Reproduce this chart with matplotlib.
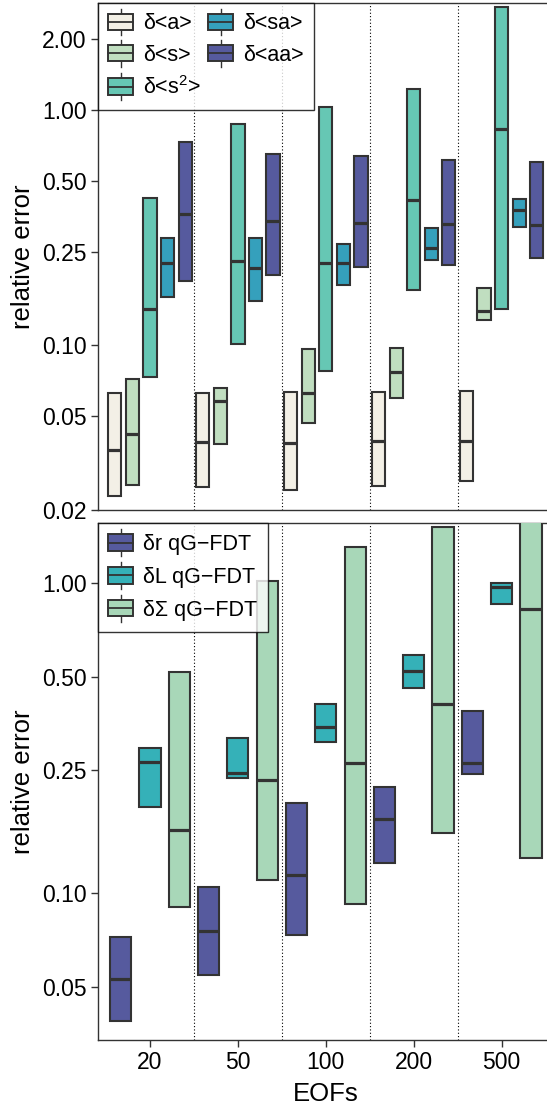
"""
relative error of the response estimates vs number of EOFs
top    - moment errors (five boxes per EOF count)
bottom - qG-FDT errors (three boxes per EOF count)
"""

import matplotlib
matplotlib.use("Agg")
import matplotlib.pyplot as plt
import numpy as np
from matplotlib.legend_handler import HandlerBase
from matplotlib.patches import Patch, Rectangle
from matplotlib.lines import Line2D

plt.rcParams["font.family"] = ["Liberation Sans", "DejaVu Sans"]
plt.rcParams["mathtext.fontset"] = "custom"
plt.rcParams["mathtext.rm"] = "Liberation Sans"
plt.rcParams["mathtext.it"] = "Liberation Sans:italic"

EOFS = ["20", "50", "100", "200", "500"]

# ---- top panel: (low, median, high) per EOF count -------------------------
TOP_NAMES = ["δ<a>", "δ<s>", "δ<s$^{2}$>", "δ<sa>", "δ<aa>"]
TOP_COLORS = ["#F3F0E6", "#C0DEC0", "#66C7B4", "#35A0BC", "#565A9E"]
a_lo  = [0.0229, 0.0250, 0.0244, 0.0252, 0.0265]
a_med = [0.0358, 0.0388, 0.0384, 0.0391, 0.0391]
a_hi  = [0.0625, 0.0625, 0.0636, 0.0636, 0.0640]
s_lo  = [0.0256, 0.0382, 0.0467, 0.0596, 0.128]
s_med = [0.0420, 0.0582, 0.0625, 0.0772, 0.140]
s_hi  = [0.0718, 0.0660, 0.0969, 0.0978, 0.175]
s2_lo  = [0.0735, 0.101, 0.078, 0.172, 0.143]
s2_med = [0.143, 0.229, 0.225, 0.413, 0.829]
s2_hi  = [0.424, 0.870, 1.03, 1.235, 2.73]
sa_lo  = [0.160, 0.155, 0.181, 0.231, 0.318]
sa_med = [0.224, 0.213, 0.223, 0.260, 0.375]
sa_hi  = [0.285, 0.285, 0.271, 0.315, 0.421]
aa_lo  = [0.188, 0.200, 0.216, 0.220, 0.235]
aa_med = [0.362, 0.338, 0.332, 0.327, 0.325]
aa_hi  = [0.730, 0.652, 0.641, 0.613, 0.603]

# ---- bottom panel ---------------------------------------------------------
BOT_NAMES = ["δr qG−FDT", "δL qG−FDT", "δΣ qG−FDT"]
BOT_COLORS = ["#565A9E", "#35B1B8", "#A8D7B8"]
r_lo  = [0.0388, 0.0545, 0.0734, 0.125, 0.2425]
r_med = [0.0528, 0.0757, 0.1146, 0.1732, 0.2627]
r_hi  = [0.0723, 0.1045, 0.196, 0.220, 0.388]
L_lo  = [0.190, 0.236, 0.308, 0.4605, 0.856]
L_med = [0.265, 0.244, 0.344, 0.521, 0.975]
L_hi  = [0.295, 0.316, 0.408, 0.586, 1.005]
S_lo  = [0.0905, 0.110, 0.0921, 0.157, 0.1297]
S_med = [0.160, 0.232, 0.264, 0.407, 0.824]
S_hi  = [0.516, 1.016, 1.312, 1.516, 2.00]

EDGE = "#333333"


class BoxKey(HandlerBase):
    """legend key that looks like a small boxplot with whiskers"""
    def create_artists(self, legend, orig, xd, yd, w, h, fontsize, trans):
        y0 = -yd
        cx = -xd + w / 2
        wl = Line2D([cx, cx], [y0 - 0.32 * h, y0 + h + 0.32 * h],
                    color=EDGE, lw=1.0, transform=trans)
        r = Rectangle((-xd, y0), w, h, facecolor=orig.get_facecolor(),
                      edgecolor=EDGE, lw=1.4, transform=trans)
        m = Line2D([-xd, -xd + w], [y0 + h / 2] * 2, color=EDGE, lw=1.3,
                   transform=trans)
        return [wl, r, m]


def draw_boxes(ax, series, colors, offsets, width):
    x = np.arange(len(EOFS))
    for (lo, med, hi), c, off in zip(series, colors, offsets):
        lo, med, hi = map(np.asarray, (lo, med, hi))
        ax.bar(x + off, hi - lo, bottom=lo, width=width, color=c,
               edgecolor=EDGE, linewidth=1.5, zorder=3)
        ax.hlines(med, x + off - width / 2, x + off + width / 2,
                  color=EDGE, linewidth=2.3, zorder=4)


def style(ax, yticks):
    ax.set_yscale("log")
    ax.set_xlim(-0.595, 4.6)
    for xv in np.arange(0.5, len(EOFS) - 0.5, 1.0):
        ax.axvline(xv, color="black", linestyle=(0, (1, 2)), linewidth=0.8, zorder=1)
    ax.set_yticks(yticks)
    ax.set_yticklabels([f"{v:.2f}" for v in yticks])
    ax.yaxis.set_minor_locator(matplotlib.ticker.NullLocator())
    ax.tick_params(axis="both", labelsize=16.5, length=5, width=1.0,
                   color="#333333", labelcolor="black", pad=3)
    for sp in ax.spines.values():
        sp.set_color("#333333")
        sp.set_linewidth(1.0)
    ax.set_ylabel("relative error", fontsize=18.5, labelpad=5)


def box_legend(ax, colors, names, **kw):
    leg = ax.legend([Patch(facecolor=c) for c in colors], names,
                    handler_map={Patch: BoxKey()}, loc="upper left",
                    bbox_to_anchor=(0, 1), borderaxespad=0, fontsize=15.5,
                    frameon=True, fancybox=False, edgecolor="black",
                    handlelength=1.15, handleheight=0.78, handletextpad=0.45,
                    borderpad=0.5, **kw)
    leg.get_frame().set_linewidth(1.0)
    leg.set_zorder(10)
    return leg


W, H = 547, 1105
fig = plt.figure(figsize=(W / 100, H / 100), dpi=100)
axT = fig.add_axes([97.7 / W, 1 - 510 / H, 456.7 / W, 507.3 / H])
axB = fig.add_axes([97.7 / W, 1 - 1040 / H, 456.7 / W, 516.7 / H])

top_series = [(a_lo, a_med, a_hi), (s_lo, s_med, s_hi), (s2_lo, s2_med, s2_hi),
              (sa_lo, sa_med, sa_hi), (aa_lo, aa_med, aa_hi)]
draw_boxes(axT, top_series, TOP_COLORS, [-0.4, -0.2, 0.0, 0.2, 0.4], 0.15)
style(axT, [0.02, 0.05, 0.10, 0.25, 0.50, 1.00, 2.00])
axT.set_ylim(0.01999, 2.86)
axT.set_xticks([])

bot_series = [(r_lo, r_med, r_hi), (L_lo, L_med, L_hi), (S_lo, S_med, S_hi)]
draw_boxes(axB, bot_series, BOT_COLORS, [-1 / 3, 0.0, 1 / 3], 0.24)
style(axB, [0.05, 0.10, 0.25, 0.50, 1.00])
axB.set_ylim(0.03365, 1.561)
axB.set_xticks(range(len(EOFS)))
axB.set_xticklabels(EOFS)
axB.set_xlabel("EOFs", fontsize=18.5, labelpad=6)

box_legend(axT, TOP_COLORS, TOP_NAMES, ncol=2, columnspacing=0.35,
           labelspacing=0.48)
box_legend(axB, BOT_COLORS, BOT_NAMES, labelspacing=0.55)

fig.savefig("out.png", dpi=100)
